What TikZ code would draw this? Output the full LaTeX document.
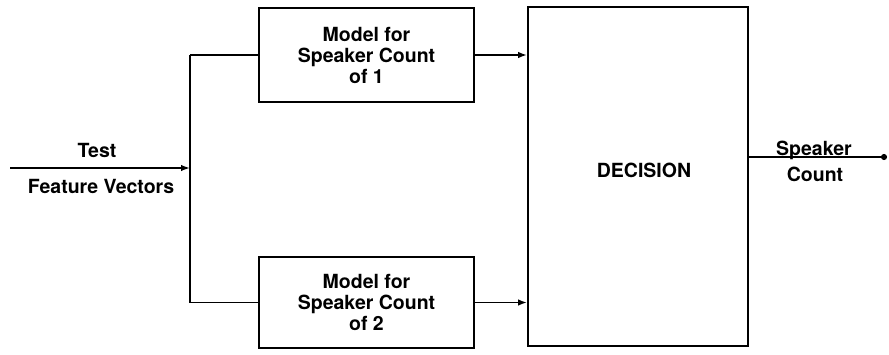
\documentclass[tikz,border=0pt]{standalone}
\usepackage{fontspec}
\setmainfont{TeX Gyre Heros}
\usetikzlibrary{arrows.meta}
\begin{document}
\begin{tikzpicture}[x=1pt,y=-1pt,
  line width=1.7pt,
  every node/.style={font=\fontsize{19.5}{21}\selectfont\bfseries},
  blk/.style={draw,rectangle,inner sep=0pt,align=center},
  arr/.style={-{Latex[length=9pt,width=6.5pt]}},
  lbl/.style={anchor=base,inner sep=0pt}]
\useasboundingbox (0,0) rectangle (889,354);
\node[blk,minimum width=215pt,minimum height=94pt] (m1) at (366.5,55) {Model for\\Speaker Count\\of 1};
\node[blk,minimum width=215pt,minimum height=91pt] (m2) at (366.5,302.5) {Model for\\Speaker Count\\of 2};
\node[blk,minimum width=220pt,minimum height=339pt] (dec) at (638,176.5) {};
\node[lbl] (dtxt) at (644,177) {DECISION};
\coordinate (in) at (10,168);
\coordinate (split) at (190,168);
\coordinate (out) at (887,157);
\draw[arr] (in) -- (split);
\draw (split |- m1.west) -- (m1.west);
\draw (split |- m2.west) -- (m2.west);
\draw (split |- m1.west) -- (split |- m2.west);
\draw[arr] (m1.east) -- (m1.east -| dec.west);
\draw[arr] (m2.east) -- (m2.east -| dec.west);
\draw[-{Circle[length=6pt]}] (out -| dec.east) -- (out);
\node[lbl] (t1) at (97,157) {Test};
\node[lbl] (t2) at (101,193) {Feature Vectors};
\node[lbl] (o1) at (814,155) {Speaker};
\node[lbl] (o2) at (815,181) {Count};
\end{tikzpicture}
\end{document}
